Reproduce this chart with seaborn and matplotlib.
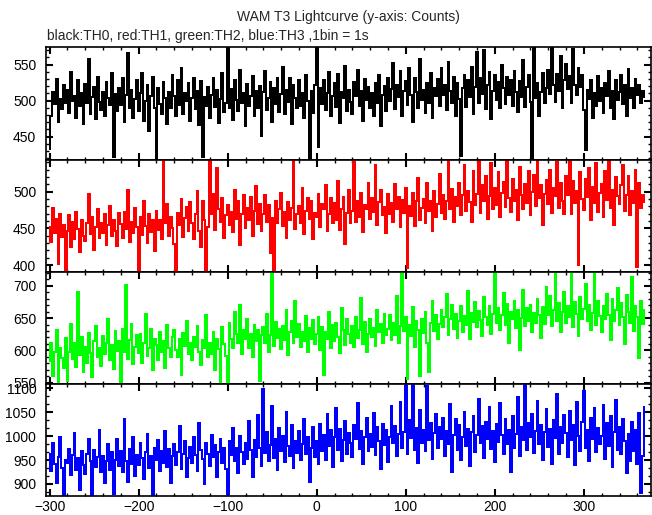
import numpy as np
import pandas as pd
import matplotlib
matplotlib.use("Agg")
import matplotlib.pyplot as plt
from matplotlib.ticker import MultipleLocator, AutoMinorLocator
import seaborn as sns

t_start = -300
t_step = 2

th0 = [
    432, 478, 512, 495, 530, 470, 502, 488, 521, 497,
    515, 483, 540, 499, 507, 476, 528, 492, 510, 468,
    523, 496, 558, 481, 505, 519, 474, 533, 498, 487,
    512, 479, 526, 503, 494, 538, 421, 509, 486, 517,
    494, 532, 470, 508, 566, 489, 515, 476, 502, 528,
    485, 511, 538, 472, 499, 521, 458, 506, 533, 490,
    419, 517, 495, 481, 526, 503, 468, 512, 489, 536,
    507, 478, 529, 494, 545, 482, 511, 499, 524, 471,
    503, 531, 488, 514, 466, 527, 422, 505, 493, 519,
    476, 508, 532, 491, 515, 469, 502, 538, 484, 497,
    574, 489, 516, 473, 528, 501, 485, 542, 496, 511,
    465, 523, 492, 507, 534, 478, 513, 489, 520, 451,
    512, 541, 487, 503, 526, 470, 518, 495, 532, 484,
    509, 547, 482, 515, 498, 531, 467, 522, 504, 489,
    528, 493, 511, 476, 536, 500, 418, 514, 483, 521,
    573, 436, 518, 495, 529, 487, 510, 540, 478, 506,
    524, 491, 537, 469, 512, 503, 548, 486, 515, 498,
    481, 526, 507, 543, 492, 514, 472, 530, 501, 519,
    489, 511, 478, 525, 497, 536, 464, 508, 520, 485,
    531, 499, 516, 552, 488, 522, 505, 541, 479, 513,
    527, 494, 546, 508, 470, 532, 512, 489, 558, 501,
    515, 483, 524, 497, 539, 476, 518, 506, 530, 492,
    545, 508, 521, 487, 553, 514, 496, 533, 478, 525,
    502, 423, 517, 536, 491, 528, 505, 547, 482, 519,
    568, 497, 531, 509, 571, 488, 522, 540, 475, 514,
    536, 501, 526, 489, 550, 517, 495, 533, 508, 528,
    493, 541, 512, 484, 527, 505, 556, 491, 519, 536,
    498, 420, 575, 503, 524, 479, 512, 538, 496, 517,
    543, 509, 574, 521, 498, 537, 513, 562, 490, 528,
    551, 516, 534, 497, 572, 522, 508, 545, 519, 536,
    487, 431, 515, 502, 528, 476, 511, 493, 534, 499,
    518, 483, 525, 507, 541, 490, 513, 474, 529, 501,
    512, 536, 495, 521, 478, 544, 503, 517, 489, 530,
    508, 522, 497, 514, 505,
]

th1 = [
    452, 431, 478, 444, 463, 402, 470, 438, 455, 391,
    447, 468, 425, 459, 436, 472, 449, 418, 461, 440,
    433, 457, 497, 442, 465, 421, 452, 476, 437, 458,
    444, 469, 428, 455, 481, 439, 462, 447, 426, 471,
    456, 437, 473, 449, 503, 431, 459, 444, 478, 452,
    392, 466, 441, 487, 453, 430, 470, 445, 461, 419,
    474, 448, 462, 436, 544, 457, 483, 440, 466, 451,
    429, 392, 471, 455, 490, 438, 464, 479, 447, 486,
    458, 435, 469, 501, 446, 424, 488, 461, 393, 452,
    543, 470, 497, 448, 532, 476, 459, 491, 437, 468,
    482, 454, 473, 445, 502, 463, 487, 428, 469, 496,
    451, 478, 461, 493, 440, 474, 508, 456, 483, 447,
    470, 495, 459, 482, 417, 464, 391, 488, 457, 476,
    499, 453, 472, 437, 486, 462, 478, 544, 449, 469,
    481, 458, 505, 443, 474, 492, 463, 487, 435, 471,
    466, 497, 452, 483, 476, 509, 447, 469, 491, 458,
    485, 462, 515, 448, 477, 493, 429, 471, 503, 457,
    474, 541, 459, 488, 466, 499, 445, 482, 476, 512,
    463, 491, 473, 536, 455, 486, 502, 468, 479, 444,
    497, 470, 484, 459, 511, 476, 493, 452, 489, 471,
    505, 396, 481, 467, 498, 453, 487, 519, 462, 478,
    490, 458, 512, 474, 487, 446, 501, 466, 483, 524,
    471, 496, 463, 488, 542, 477, 504, 459, 493, 480,
    512, 468, 495, 537, 474, 501, 486, 459, 528, 482,
    497, 543, 471, 509, 488, 521, 463, 494, 539, 476,
    505, 482, 527, 466, 498, 513, 479, 544, 491, 472,
    518, 487, 503, 461, 534, 495, 476, 511, 485, 529,
    468, 500, 523, 481, 544, 492, 509, 455, 497, 516,
    483, 530, 471, 505, 494, 541, 478, 512, 488, 469,
    522, 496, 543, 470, 515, 484, 501, 400, 527, 490,
    475, 518, 493, 532, 461, 506, 485, 539, 472, 499,
    511, 466, 528, 489, 544, 478, 503, 455, 520, 494,
    483, 509, 537, 474, 496, 522, 468, 501, 485, 530,
    397, 512, 478, 495, 486,
]

th2 = [
    583, 612, 560, 597, 631, 549, 604, 588, 572, 619,
    552, 598, 641, 586, 611, 574, 690, 593, 620, 567,
    605, 581, 627, 596, 559, 615, 638, 590, 603, 576,
    622, 594, 611, 649, 585, 608, 571, 630, 599, 614,
    551, 633, 598, 702, 587, 616, 641, 578, 605, 623,
    596, 625, 580, 612, 657, 591, 604, 633, 569, 617,
    608, 585, 629, 598, 614, 572, 640, 603, 590, 621,
    632, 600, 589, 618, 562, 627, 607, 646, 594, 612,
    585, 621, 605, 637, 598, 577, 616, 603, 654, 589,
    611, 594, 628, 570, 617, 602, 548, 636, 609, 591,
    549, 642, 618, 603, 659, 626, 611, 671, 595, 632,
    617, 648, 603, 625, 589, 640, 614, 631, 552, 623,
    636, 611, 657, 598, 624, 720, 607, 644, 619, 633,
    602, 637, 616, 662, 593, 628, 645, 611, 676, 620,
    641, 605, 628, 614, 653, 597, 634, 618, 647, 609,
    625, 652, 600, 636, 561, 629, 617, 660, 603, 639,
    614, 643, 621, 596, 666, 631, 608, 648, 625, 612,
    637, 605, 652, 619, 632, 681, 610, 644, 598, 626,
    648, 620, 635, 607, 662, 628, 641, 612, 657, 624,
    633, 654, 616, 642, 624, 685, 611, 637, 719, 630,
    651, 556, 639, 622, 667, 605, 645, 631, 560, 648,
    627, 659, 612, 566, 643, 676, 630, 654, 618, 641,
    662, 636, 651, 687, 624, 648, 671, 633, 657, 619,
    645, 669, 628, 653, 640, 692, 617, 658, 644, 675,
    636, 661, 647, 622, 683, 652, 639, 668, 625, 656,
    721, 643, 666, 631, 654, 689, 640, 672, 612, 659,
    648, 677, 635, 662, 601, 650, 694, 638, 665, 646,
    671, 629, 658, 643, 680, 654, 619, 667, 641, 698,
    655, 684, 637, 662, 720, 645, 673, 629, 660, 691,
    642, 668, 651, 719, 636, 675, 657, 622, 682, 649,
    664, 703, 646, 671, 631, 658, 720, 640, 677, 653,
    628, 669, 648, 687, 655, 616, 680, 645, 662, 697,
    639, 674, 651, 609, 686, 659, 643, 714, 630, 668,
    652, 588, 676, 641, 663,
]

th3 = [
    963, 928, 985, 941, 902, 957, 998, 934, 876, 951,
    944, 972, 918, 960, 1006, 929, 955, 887, 968, 940,
    921, 962, 993, 947, 878, 971, 935, 956, 1012, 926,
    958, 901, 947, 983, 930, 966, 879, 951, 994, 938,
    969, 926, 1035, 948, 905, 973, 942, 998, 917, 960,
    939, 985, 954, 911, 967, 1004, 933, 958, 877, 976,
    951, 992, 927, 969, 944, 1010, 936, 973, 902, 958,
    983, 940, 966, 1021, 931, 962, 990, 915, 955, 978,
    944, 997, 960, 928, 1027, 971, 952, 899, 985, 963,
    938, 1003, 957, 982, 915, 966, 994, 944, 976, 931,
    880, 989, 961, 1016, 948, 975, 923, 1000, 967, 942,
    986, 953, 1032, 970, 914, 991, 957, 1043, 976, 938,
    1098, 964, 1008, 947, 981, 1062, 955, 993, 929, 1017,
    969, 1001, 946, 1050, 980, 958, 1022, 934, 990, 964,
    1011, 951, 983, 1036, 962, 997, 904, 975, 1018, 957,
    990, 942, 1025, 968, 1003, 951, 1047, 979, 1012, 936,
    998, 1059, 970, 1015, 947, 992, 1031, 963, 1006, 985,
    957, 1022, 994, 1068, 972, 1010, 941, 999, 1037, 968,
    1004, 978, 1049, 960, 1019, 990, 931, 1026, 981, 1013,
    946, 997, 1063, 985, 1021, 958, 1004, 1072, 976, 1009,
    1105, 962, 1033, 995, 1108, 970, 1017, 943, 1055, 986,
    1012, 968, 1104, 991, 1028, 952, 1006, 1045, 975, 1019,
    993, 1038, 958, 1011, 984, 1066, 926, 1002, 1035, 971,
    1024, 949, 997, 1051, 980, 1015, 937, 1008, 1042, 966,
    1003, 1077, 985, 1020, 955, 1030, 994, 1061, 972, 1010,
    946, 1025, 988, 1069, 1003, 962, 1036, 983, 1013, 924,
    1041, 975, 1005, 1082, 959, 1018, 992, 1106, 971, 1027,
    997, 1046, 964, 1011, 1073, 983, 1024, 950, 1008, 1056,
    978, 1015, 941, 1033, 996, 1087, 962, 1019, 985, 1043,
    1006, 957, 1052, 991, 1022, 939, 1071, 1000, 968, 1029,
    1094, 975, 1012, 948, 1037, 993, 1058, 966, 1016, 984,
    1001, 1064, 952, 1027, 980, 1041, 936, 1009, 1075, 971,
    1018, 963, 1035, 990, 922, 1004, 947, 1029, 968, 1012,
    941, 1048, 882, 958, 1061,
]

channels = ["TH0", "TH1", "TH2", "TH3"]
colors = ["#000000", "#ff0000", "#00ff00", "#0000ff"]
ylims = [(418, 574), (391, 544), (548, 722), (875, 1109)]
minor_div = [5, 5, 5, 3]

sns.set_style("ticks")
plt.rcParams["font.family"] = ["Liberation Sans", "DejaVu Sans"]
plt.rcParams["font.size"] = 10

fig, axes = plt.subplots(4, 1, figsize=(6.52, 5.15), dpi=100, sharex=True,
                         gridspec_kw=dict(hspace=0))
fig.subplots_adjust(left=0.0706, right=0.998, top=0.908, bottom=0.037)

for ax, name, vals, col, yl, md in zip(axes, channels, [th0, th1, th2, th3],
                                       colors, ylims, minor_div):
    df = pd.DataFrame({"time": t_start + t_step * np.arange(len(vals)),
                       "counts": vals})
    sns.lineplot(data=df, x="time", y="counts", ax=ax, color=col,
                 linewidth=1.4, drawstyle="steps-mid", estimator=None,
                 antialiased=False)
    ax.set_ylim(*yl)
    ax.set_xlim(-304, 375)
    ax.set_xlabel("")
    ax.set_ylabel("")
    ax.xaxis.set_major_locator(MultipleLocator(100))
    ax.xaxis.set_minor_locator(MultipleLocator(20))
    ax.yaxis.set_major_locator(MultipleLocator(50))
    ax.yaxis.set_minor_locator(AutoMinorLocator(md))
    ax.tick_params(which="both", direction="in", top=True, right=True,
                   colors="black", labelsize=10)
    ax.tick_params(which="major", length=4.7, width=1.5)
    ax.tick_params(which="minor", length=2.4, width=1.0)
    ax.tick_params(axis="y", pad=7)
    ax.tick_params(axis="x", pad=3)
    for sp in ax.spines.values():
        sp.set_linewidth(1.2)
        sp.set_color("black")

fig.text(0.535, 0.959, "WAM T3 Lightcurve (y-axis: Counts)", ha="center",
         va="baseline", fontsize=10)
fig.text(0.0715, 0.922, "black:TH0, red:TH1, green:TH2, blue:TH3 ,1bin = 1s",
         ha="left", va="baseline", fontsize=10)

fig.savefig("out.png", dpi=100)
